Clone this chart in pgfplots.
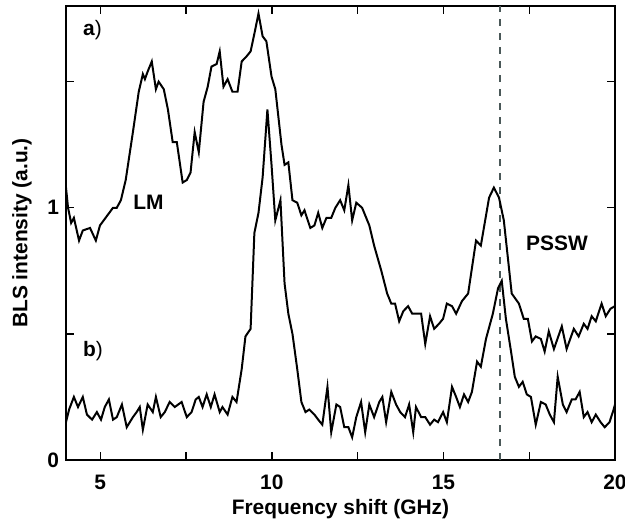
\documentclass[border=0pt]{standalone}
\usepackage{pgfplots}
\pgfplotsset{compat=1.18}
\usepackage{fontspec}
\setmainfont{Liberation Sans}
\definecolor{dashc}{HTML}{4A5858}
\begin{document}
\begin{tikzpicture}
\begin{axis}[name=ax,
  scale only axis, width=274.5bp, height=227bp,
  xmin=4, xmax=20, ymin=0, ymax=1.8,
  axis line style={line width=0.8pt},
  tick style={line width=0.7pt, black},
  tick align=inside, major tick length=4bp, minor tick length=4bp,
  xtick={5,10,15,20}, minor xtick={7.5,12.5,17.5},
  ytick={0,1}, minor ytick={0.5,1.5},
  /pgf/number format/assume math mode=true,
  tick label style={font=\fontsize{10.5}{12}\selectfont\bfseries},
  xticklabel style={yshift=-4bp},
  label style={font=\fontsize{10.5}{12}\selectfont\bfseries},
  xlabel={Frequency shift (GHz)},
  ylabel={BLS intensity (a.u.)},
  xlabel style={yshift=2bp},
  ylabel style={yshift=1bp},
  clip=true,
]
\addplot[dashc, line width=0.9pt, dash pattern=on 3.5bp off 3.5bp] coordinates {(16.64,0) (16.64,1.8)};
\addplot[black, line width=1pt] coordinates {
(4.00,1.08) (4.06,1.00) (4.15,0.94) (4.23,0.96) (4.38,0.87) (4.49,0.91) (4.70,0.92) (4.87,0.87) (4.99,0.93)
(5.37,1.00) (5.48,1.00) (5.60,1.03) (5.74,1.11) (5.95,1.30) (6.12,1.46) (6.24,1.53) (6.30,1.51) (6.38,1.54)
(6.50,1.58) (6.62,1.47) (6.70,1.50) (6.85,1.47) (6.97,1.39) (7.11,1.26) (7.23,1.26) (7.40,1.10) (7.52,1.11)
(7.63,1.14) (7.75,1.30) (7.87,1.22) (8.01,1.42) (8.13,1.48) (8.24,1.56) (8.39,1.57) (8.48,1.62) (8.59,1.48)
(8.71,1.51) (8.85,1.46) (9.00,1.46) (9.12,1.58) (9.26,1.60) (9.38,1.62) (9.49,1.69) (9.61,1.77) (9.73,1.68)
(9.84,1.66) (9.99,1.52) (10.10,1.47) (10.28,1.25) (10.37,1.17) (10.48,1.18) (10.60,1.03) (10.74,1.02)
(10.86,0.97) (10.95,0.99) (11.12,0.92) (11.24,0.93) (11.35,0.98) (11.47,0.92) (11.59,0.96) (11.73,0.96)
(11.85,1.00) (11.99,1.03) (12.11,0.99) (12.23,1.09) (12.34,0.95) (12.46,1.02) (12.63,1.00) (12.84,0.93)
(12.98,0.85) (13.19,0.75) (13.36,0.66) (13.48,0.62) (13.59,0.62) (13.71,0.55) (13.83,0.59) (13.97,0.61)
(14.09,0.58) (14.20,0.58) (14.35,0.58) (14.47,0.46) (14.61,0.57) (14.73,0.52) (14.87,0.54) (14.99,0.56)
(15.10,0.62) (15.25,0.61) (15.37,0.58) (15.54,0.63) (15.72,0.66) (15.95,0.87) (16.09,0.85) (16.33,1.04)
(16.47,1.08) (16.62,1.04) (16.76,0.95) (16.99,0.66) (17.20,0.62) (17.34,0.56) (17.46,0.56) (17.58,0.47)
(17.69,0.49) (17.84,0.48) (17.95,0.43) (18.07,0.51) (18.22,0.44) (18.45,0.53) (18.59,0.44) (18.80,0.52)
(18.94,0.49) (19.09,0.54) (19.20,0.52) (19.32,0.57) (19.44,0.55) (19.61,0.62) (19.73,0.57) (19.87,0.60)
(20.00,0.61)
};
\addplot[black, line width=1pt] coordinates {
(4.00,0.15) (4.09,0.20) (4.23,0.25) (4.35,0.21) (4.49,0.25) (4.61,0.18) (4.76,0.16) (4.90,0.19) (5.02,0.16)
(5.13,0.21) (5.25,0.24) (5.37,0.16) (5.48,0.17) (5.63,0.22) (5.77,0.13) (5.95,0.17) (6.06,0.19) (6.15,0.21)
(6.24,0.12) (6.38,0.22) (6.53,0.19) (6.62,0.25) (6.76,0.17) (6.88,0.19) (7.02,0.23) (7.17,0.21) (7.37,0.23)
(7.52,0.17) (7.66,0.19) (7.78,0.24) (7.87,0.25) (7.98,0.21) (8.10,0.26) (8.22,0.21) (8.33,0.26) (8.48,0.19)
(8.56,0.21) (8.71,0.18) (8.85,0.25) (8.97,0.23) (9.12,0.36) (9.23,0.49) (9.38,0.52) (9.49,0.90) (9.61,0.98)
(9.73,1.12) (9.87,1.39) (9.99,1.17) (10.10,0.95) (10.25,1.03) (10.37,0.70) (10.48,0.58) (10.60,0.50)
(10.74,0.36) (10.86,0.23) (10.98,0.19) (11.09,0.20) (11.24,0.18) (11.35,0.16) (11.47,0.14) (11.62,0.29)
(11.73,0.11) (11.88,0.22) (11.99,0.21) (12.11,0.13) (12.23,0.13) (12.34,0.09) (12.46,0.17) (12.60,0.23)
(12.72,0.11) (12.84,0.22) (12.98,0.17) (13.13,0.23) (13.22,0.25) (13.33,0.15) (13.48,0.27) (13.62,0.22)
(13.74,0.19) (13.88,0.17) (14.00,0.22) (14.12,0.11) (14.20,0.21) (14.35,0.17) (14.47,0.17) (14.61,0.14)
(14.73,0.16) (14.84,0.15) (14.99,0.19) (15.10,0.15) (15.25,0.29) (15.37,0.25) (15.48,0.21) (15.60,0.26)
(15.72,0.23) (15.83,0.27) (15.98,0.39) (16.09,0.37) (16.24,0.48) (16.44,0.58) (16.59,0.68) (16.70,0.71)
(16.82,0.56) (16.97,0.43) (17.08,0.33) (17.20,0.29) (17.31,0.31) (17.43,0.26) (17.55,0.25) (17.69,0.14)
(17.84,0.23) (17.98,0.22) (18.10,0.18) (18.22,0.15) (18.33,0.33) (18.48,0.22) (18.59,0.19) (18.74,0.24)
(18.85,0.24) (18.97,0.27) (19.09,0.17) (19.20,0.19) (19.32,0.15) (19.44,0.18) (19.58,0.15) (19.70,0.13)
(19.84,0.15) (19.96,0.20) (20.00,0.22)
};
\node[anchor=west, font=\fontsize{10.5}{12}\selectfont, inner sep=0pt] at (axis cs:4.49,1.706) {\textbf{a})};
\node[anchor=west, font=\fontsize{10.5}{12}\selectfont, inner sep=0pt] at (axis cs:4.49,0.43) {\textbf{b})};
\node[anchor=west, font=\fontsize{10.5}{12}\selectfont\bfseries, inner sep=0pt] at (axis cs:5.95,1.02) {LM};
\node[anchor=west, font=\fontsize{10.5}{12}\selectfont\bfseries, inner sep=0pt] at (axis cs:17.40,0.861) {PSSW};
\end{axis}
\pgfresetboundingbox
\path (ax.south west) ++(-33bp,-35.5bp) rectangle ([shift={(5bp,3bp)}]ax.north east);
\end{tikzpicture}
\end{document}
